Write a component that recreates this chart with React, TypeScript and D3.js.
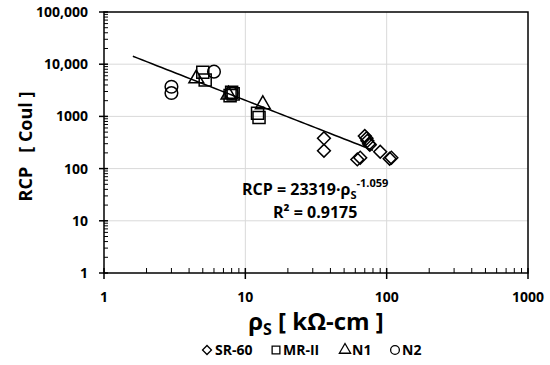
import * as d3 from "d3";
import React, { useEffect, useRef } from "react";

// SR-60 (diamonds)
const sr60X = [36, 36, 62, 65, 70, 72, 73, 75, 76, 90, 105, 108];
const sr60Y = [380, 220, 150, 162, 420, 380, 340, 300, 285, 210, 155, 162];
// MR-II (squares)
const mrX = [5, 5.2, 7.8, 8, 8.2, 12.2, 12.5];
const mrY = [7000, 5000, 2500, 2900, 2700, 1150, 950];
// N1 (triangles)
const n1X = [4.5, 7.6, 13.3];
const n1Y = [5300, 2600, 1700];
// N2 (circles)
const n2X = [3, 3, 6, 8];
const n2Y = [3700, 2800, 7200, 2800];

const yTicks = [1, 10, 100, 1000, 10000, 100000];
const yTickLabels = ["1", "10", "100", "1000", "10,000", "100,000"];
const xTicks = [1, 10, 100, 1000];
const xTickLabels = ["1", "10", "100", "1000"];

// power trendline RCP = 23319 * rho^-1.059
const fitA = 23319;
const fitB = -1.059;
const fitRange = [1.6, 80];

const FONT = "'Open Sans', 'DejaVu Sans', sans-serif";

function App() {
    const ref = useRef<SVGSVGElement>(null);

    useEffect(() => {
        const svg = d3.select(ref.current);
        svg.selectAll("*").remove();

        const left = 104, right = 528, top = 12, bottom = 273;
        const x = d3.scaleLog().domain([1, 1000]).range([left, right]);
        const y = d3.scaleLog().domain([1, 100000]).range([bottom, top]);

        // grid
        const grid = svg.append("g");
        grid.selectAll(".gy")
            .data(yTicks.slice(1, -1))
            .enter()
            .append("line")
            .attr("x1", left)
            .attr("x2", right)
            .attr("y1", (d) => y(d))
            .attr("y2", (d) => y(d))
            .attr("stroke", "#d9d9d9");
        grid.selectAll(".gx")
            .data(xTicks.slice(1, -1))
            .enter()
            .append("line")
            .attr("y1", top)
            .attr("y2", bottom)
            .attr("x1", (d) => x(d))
            .attr("x2", (d) => x(d))
            .attr("stroke", "#d9d9d9");

        // frame
        svg.append("rect")
            .attr("x", left)
            .attr("y", top)
            .attr("width", right - left)
            .attr("height", bottom - top)
            .attr("fill", "none")
            .attr("stroke", "#000")
            .attr("stroke-width", 1.5);

        // minor ticks
        const minors: number[] = [];
        [1, 10, 100, 1000, 10000].forEach((p) => {
            for (let k = 2; k <= 9; k++) minors.push(p * k);
        });
        svg.append("g")
            .selectAll("line")
            .data(minors)
            .enter()
            .append("line")
            .attr("x1", left)
            .attr("x2", left + 4)
            .attr("y1", (d) => y(d))
            .attr("y2", (d) => y(d))
            .attr("stroke", "#000");
        svg.append("g")
            .selectAll("line")
            .data(minors.filter((d) => d < 1000))
            .enter()
            .append("line")
            .attr("y1", bottom)
            .attr("y2", bottom - 5)
            .attr("x1", (d) => x(d))
            .attr("x2", (d) => x(d))
            .attr("stroke", "#000");

        // major ticks + labels
        svg.append("g")
            .selectAll("line")
            .data(yTicks)
            .enter()
            .append("line")
            .attr("x1", left - 5)
            .attr("x2", left + 4)
            .attr("y1", (d) => y(d))
            .attr("y2", (d) => y(d))
            .attr("stroke", "#000")
            .attr("stroke-width", 1.5);
        svg.append("g")
            .selectAll("text")
            .data(yTicks)
            .enter()
            .append("text")
            .attr("x", left - 16)
            .attr("y", (d) => y(d) + 5)
            .attr("text-anchor", "end")
            .style("font", `bold 14px ${FONT}`)
            .text((d, i) => yTickLabels[i]);
        svg.append("g")
            .selectAll("line")
            .data(xTicks)
            .enter()
            .append("line")
            .attr("y1", bottom - 5)
            .attr("y2", bottom + 6)
            .attr("x1", (d) => x(d))
            .attr("x2", (d) => x(d))
            .attr("stroke", "#000")
            .attr("stroke-width", 1.5);
        svg.append("g")
            .selectAll("text")
            .data(xTicks)
            .enter()
            .append("text")
            .attr("x", (d) => x(d))
            .attr("y", 302)
            .attr("text-anchor", "middle")
            .style("font", `bold 14px ${FONT}`)
            .text((d, i) => xTickLabels[i]);

        // trendline
        const fitPts = d3.range(0, 51).map((i) => {
            const xv = fitRange[0] * Math.pow(fitRange[1] / fitRange[0], i / 50);
            return [xv, fitA * Math.pow(xv, fitB)];
        });
        svg.append("path")
            .attr("d", d3.line<number[]>().x((d) => x(d[0])).y((d) => y(d[1]))(fitPts))
            .attr("fill", "none")
            .attr("stroke", "#000")
            .attr("stroke-width", 1.5);

        const markerSym = {
            diamond: d3.symbol().type(d3.symbolSquare).size(82),
            square: d3.symbol().type(d3.symbolSquare).size(145),
            triangle: d3.symbol().type(d3.symbolTriangle).size(95),
            circle: d3.symbol().type(d3.symbolCircle).size(125),
        };

        const series = [
            { xs: sr60X, ys: sr60Y, kind: "diamond" },
            { xs: mrX, ys: mrY, kind: "square" },
            { xs: n1X, ys: n1Y, kind: "triangle" },
            { xs: n2X, ys: n2Y, kind: "circle" },
        ];
        series.forEach((s) => {
            svg.append("g")
                .selectAll("path")
                .data(s.xs.map((v, i) => [v, s.ys[i]]))
                .enter()
                .append("path")
                .attr("d", markerSym[s.kind]())
                .attr(
                    "transform",
                    (d) =>
                        `translate(${x(d[0])},${y(d[1])})` +
                        (s.kind === "diamond" ? " rotate(45)" : "")
                )
                .attr("fill", "none")
                .attr("stroke", "#000")
                .attr("stroke-width", 1.5);
        });

        // equation
        const eq = svg.append("text")
            .attr("x", 242)
            .attr("y", 195)
            .style("font", `bold 16px ${FONT}`);
        eq.append("tspan").text("RCP = 23319·ρ");
        eq.append("tspan").attr("dy", 4).style("font-size", "11px").text("S");
        eq.append("tspan").attr("dy", -12).style("font-size", "11px").text("-1.059");
        const r2 = svg.append("text")
            .attr("x", 273)
            .attr("y", 218)
            .style("font", `bold 16px ${FONT}`);
        r2.append("tspan").text("R² = 0.9175");

        // axis titles
        const xt = svg.append("text")
            .attr("x", (left + right) / 2)
            .attr("y", 330)
            .attr("text-anchor", "middle")
            .style("font", `bold 24px ${FONT}`);
        xt.append("tspan").text("ρ");
        xt.append("tspan").attr("dy", 5).style("font-size", "16px").text("S");
        xt.append("tspan").attr("dy", -5).text(" [ kΩ-cm ]");

        svg.append("text")
            .attr("transform", `translate(32,${(top + bottom) / 2 + 4}) rotate(-90)`)
            .attr("text-anchor", "middle")
            .style("font", `bold 18px ${FONT}`)
            .style("white-space", "pre")
            .text("RCP   [ Coul ]");

        // legend
        const legend = [
            { label: "SR-60", kind: "diamond", mx: 207, tx: 215 },
            { label: "MR-II", kind: "square", mx: 276, tx: 283 },
            { label: "N1", kind: "triangle", mx: 345, tx: 352 },
            { label: "N2", kind: "circle", mx: 395, tx: 402 },
        ];
        const lg = svg.append("g");
        legend.forEach((l) => {
            const sz = l.kind === "diamond" ? 40 : l.kind === "triangle" ? 55 : 60;
            lg.append("path")
                .attr("d", d3.symbol().type(
                    l.kind === "circle" ? d3.symbolCircle :
                    l.kind === "triangle" ? d3.symbolTriangle : d3.symbolSquare
                ).size(sz)())
                .attr("transform", `translate(${l.mx},350)` + (l.kind === "diamond" ? " rotate(45)" : ""))
                .attr("fill", "none")
                .attr("stroke", "#000")
                .attr("stroke-width", 1.3);
            lg.append("text")
                .attr("x", l.tx)
                .attr("y", 355)
                .style("font", `bold 14px ${FONT}`)
                .text(l.label);
        });
    }, []);

    return (
        <svg
            ref={ref}
            width={550}
            height={365}
            style={{ position: "absolute", left: 0, top: 0, background: "#fff" }}
        ></svg>
    );
}

export default App;
